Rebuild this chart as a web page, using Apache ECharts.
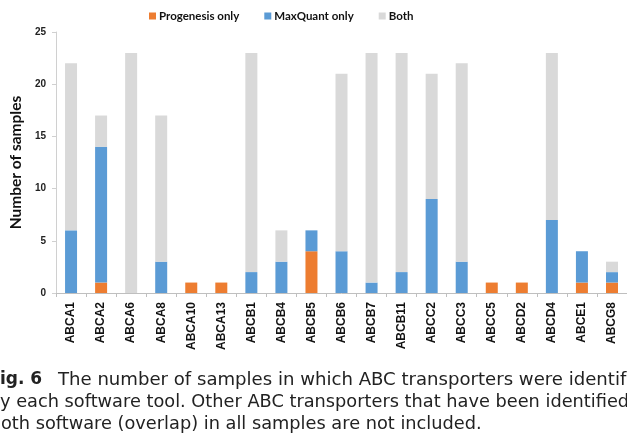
<!DOCTYPE html>
<html>
<head>
<meta charset="utf-8">
<script src="https://cdn.jsdelivr.net/npm/echarts@6/dist/echarts.min.js"></script>
<style>
  body { margin: 0; background: #fff; }
</style>
</head>
<body>
<div id="main" style="width: 627px;height:443px;"></div>
<script type="text/javascript">
    // 数据
    var genes = ['ABCA1', 'ABCA2', 'ABCA6', 'ABCA8', 'ABCA10', 'ABCA13', 'ABCB1', 'ABCB4', 'ABCB5', 'ABCB6',
        'ABCB7', 'ABCB11', 'ABCC2', 'ABCC3', 'ABCC5', 'ABCD2', 'ABCD4', 'ABCE1', 'ABCG8'];
    var progenesisOnly = [0, 1, 0, 0, 1, 1, 0, 0, 4, 0, 0, 0, 0, 0, 1, 1, 0, 1, 1];
    var maxquantOnly = [6, 13, 0, 3, 0, 0, 2, 3, 2, 4, 1, 2, 9, 3, 0, 0, 7, 3, 1];
    var both = [16, 3, 23, 14, 0, 0, 21, 3, 0, 17, 22, 21, 12, 19, 0, 0, 16, 0, 1];
    var yTicks = [0, 5, 10, 15, 20, 25];

    var myChart = echarts.init(document.getElementById('main'));
    var option = {
        animation: false,
        legend: {
            top: 5,
            left: 144,
            itemWidth: 7,
            itemHeight: 7,
            itemGap: 25,
            icon: 'rect',
            textStyle: { fontFamily: 'Lato', fontWeight: 'bold', fontSize: 11.5, color: '#111', padding: [0, 0, 0, -2] },
            data: ['Progenesis only', 'MaxQuant only', 'Both']
        },
        grid: { left: 56, top: 32, width: 571, height: 261, containLabel: false },
        xAxis: {
            type: 'category',
            data: genes,
            axisLine: { lineStyle: { color: '#bfbfbf' } },
            axisTick: { show: true, length: 4, lineStyle: { color: '#bfbfbf' } },
            axisLabel: {
                rotate: 90, interval: 0, margin: 9,
                fontFamily: 'Liberation Sans', fontWeight: 'bold', fontSize: 12, color: '#111'
            }
        },
        yAxis: {
            type: 'value',
            min: 0, max: 25, interval: 5,
            name: 'Number of samples',
            nameLocation: 'middle',
            nameGap: 30,
            nameTextStyle: { fontFamily: 'Lato', fontWeight: 'bold', fontSize: 15.5, color: '#111' },
            axisLine: { show: true, lineStyle: { color: '#d0d0d0' } },
            axisTick: { show: true, length: 4, lineStyle: { color: '#d0d0d0' } },
            splitLine: { show: false },
            axisLabel: {
                margin: 10, fontFamily: 'Liberation Sans', fontWeight: 'bold', fontSize: 10, color: '#222',
                formatter: function (v) { return yTicks.indexOf(v) >= 0 ? String(v) : ''; }
            }
        },
        series: [
            { name: 'Progenesis only', type: 'bar', stack: 'a', barWidth: 12, data: progenesisOnly, itemStyle: { color: '#ED7D31' } },
            { name: 'MaxQuant only', type: 'bar', stack: 'a', barWidth: 12, data: maxquantOnly, itemStyle: { color: '#5B9BD5' } },
            { name: 'Both', type: 'bar', stack: 'a', barWidth: 12, data: both, itemStyle: { color: '#D9D9D9' } }
        ],
        graphic: [
            { type: 'text', left: 0, top: 371, style: { text: 'ig. 6', fontFamily: 'DejaVu Sans', fontWeight: 'bold', fontSize: 17, fill: '#222' } },
            { type: 'text', left: 58, top: 371, style: { text: 'The number of samples in which ABC transporters were identif', fontFamily: 'DejaVu Sans', fontSize: 18.1, fill: '#222' } },
            { type: 'text', left: 0, top: 393, style: { text: 'y each software tool. Other ABC transporters that have been identified', fontFamily: 'DejaVu Sans', fontSize: 17.75, fill: '#222' } },
            { type: 'text', left: 1, top: 415, style: { text: 'oth software (overlap) in all samples are not included.', fontFamily: 'DejaVu Sans', fontSize: 17.75, fill: '#222' } }
        ]
    };
    myChart.setOption(option);
</script>
</body>
</html>
